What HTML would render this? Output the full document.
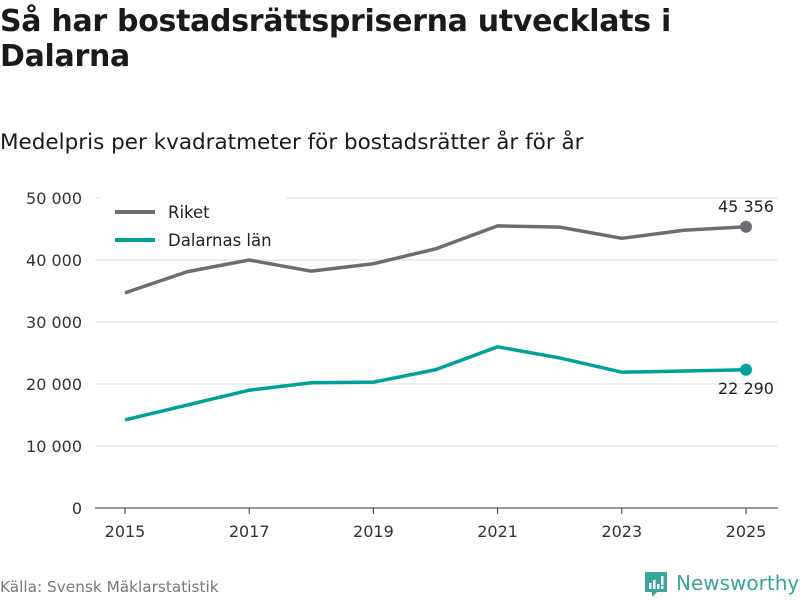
<!DOCTYPE html>
<html><head><meta charset="utf-8"><style>
body{margin:0;width:800px;height:600px;background:#fff;font-family:"DejaVu Sans","Liberation Sans",sans-serif;overflow:hidden;position:relative;color:#1a1a1a}
#title{position:absolute;left:0;top:4px;font-size:30px;font-weight:bold;line-height:35px;margin:0;letter-spacing:-0.3px}
#sub{position:absolute;left:0;top:130px;font-size:21.5px}
#src{position:absolute;left:0;top:578px;font-size:15.3px;color:#777}
</style></head><body>
<h1 id="title">Så har bostadsrättspriserna utvecklats i<br>Dalarna</h1>
<div id="sub">Medelpris per kvadratmeter för bostadsrätter år för år</div>
<div id="src">Källa: Svensk Mäklarstatistik</div>
<svg style="position:absolute;left:644px;top:571px" width="156" height="29">
<path d="M1 1h22v20h-10l-5 5v-5H1z" fill="#3aa59a"/>
<rect x="5" y="12" width="2.5" height="6" fill="#fff"/><rect x="9" y="9" width="2.5" height="9" fill="#fff"/><rect x="13" y="13" width="2.5" height="5" fill="#fff"/><rect x="17" y="5" width="2.5" height="9" fill="#fff"/><rect x="17" y="15" width="2.5" height="3" fill="#fff"/>
<text x="32" y="19" font-size="20" fill="#3aa59a" font-family="DejaVu Sans,sans-serif">Newsworthy</text>
</svg>
<svg id="chart" width="800" height="600" style="position:absolute;left:0;top:0"></svg>
<script>
const years=[2015,2016,2017,2018,2019,2020,2021,2022,2023,2024,2025];
const riket=[34700,38100,40000,38200,39400,41800,45500,45300,43500,44800,45356];
const dalarna=[14200,16600,19000,20200,20300,22300,26000,24200,21900,22100,22290];
const yTicks=[0,10000,20000,30000,40000,50000];
const xTicks=[2015,2017,2019,2021,2023,2025];
const svg=document.getElementById('chart');const NS='http://www.w3.org/2000/svg';
const xs=v=>125+(v-2015)*62.1, ys=v=>508-v*0.0062;
const fmt=v=>v.toString().replace(/\B(?=(\d{3})+(?!\d))/g,' ');
function mk(t,a){const e=document.createElementNS(NS,t);for(const k in a)e.setAttribute(k,a[k]);svg.appendChild(e);return e;}
yTicks.forEach(v=>{
 const l=mk('line',{x1:95,x2:778,y1:ys(v),y2:ys(v),stroke:v?'#ddd':'#333','stroke-width':1});
 
 
 const t=mk('text',{x:82,y:ys(v)+6,'text-anchor':'end','font-size':16,fill:'#333'});t.textContent=fmt(v);
 
 
});
xTicks.forEach(v=>{
 const l=mk('line',{x1:xs(v),x2:xs(v),y1:508,y2:514,stroke:'#333'});
 
 
 const t=mk('text',{x:xs(v),y:537,'text-anchor':'middle','font-size':16,fill:'#333'});t.textContent=v;
 
 
});
function series(vals,col,name,lblDy){
 const p=mk('polyline',{points:vals.map((v,i)=>xs(years[i])+','+ys(v)).join(' '),fill:'none',stroke:col,'stroke-width':3.5,'stroke-linejoin':'round'});
 
 
 const n=vals.length-1;
 const c=mk('circle',{cx:xs(years[n]),cy:ys(vals[n]),r:6,fill:col});
 
 
 const t=mk('text',{x:xs(years[n]),y:ys(vals[n])+lblDy,'text-anchor':'middle','font-size':16,fill:'#222'});
 t.textContent=fmt(vals[n]);
 
 
}
series(riket,'#6d6c72','riket',-15);
series(dalarna,'#00a19a','dalarna',24);
const bg=mk('rect',{x:100,y:196,width:186,height:60,fill:'#fff'});


[['Riket','#6d6c72',212],['Dalarnas län','#00a19a',240]].forEach(([n,c,y])=>{
 const l=mk('line',{x1:115,x2:155,y1:y,y2:y,stroke:c,'stroke-width':4});
 
 
 const t=mk('text',{x:168,y:y+6,'font-size':16.5,fill:'#222'});t.textContent=n;
 
 
});
</script>
</body></html>
